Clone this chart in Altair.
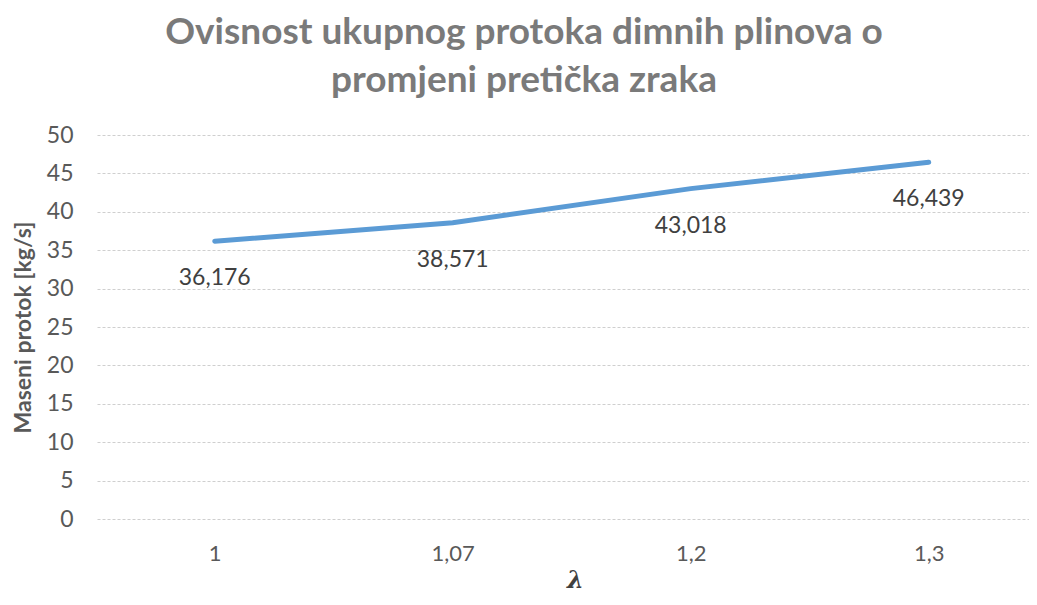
import altair as alt
import pandas as pd

categories = ["1", "1,07", "1,2", "1,3"]
values = [36.176, 38.571, 43.018, 46.439]
y_ticks = [0, 5, 10, 15, 20, 25, 30, 35, 40, 45, 50]

df = pd.DataFrame({"lam": categories, "val": values})
df["lbl"] = [f"{v:.3f}".replace(".", ",") for v in values]

FONT = "Lato"
x_scale = alt.Scale(type="point", padding=0.458, align=0.54)
y_scale = alt.Scale(domain=[0, 50], nice=False)

x_axis = alt.Axis(title="λ", labelAngle=0, ticks=False, domain=False,
                  grid=False, labelFontSize=22, labelColor="#595959",
                  labelPadding=24, titleFontSize=24, titleFontWeight="bold",
                  titleFontStyle="italic", titleColor="#404040",
                  titlePadding=4, titleX=478, labelFont=FONT,
                  titleFont="DejaVu Serif")
y_axis = alt.Axis(title="Maseni protok [kg/s]", values=y_ticks, ticks=False,
                  domain=False, gridColor="#cfcfcf", gridDash=[3, 2],
                  gridWidth=1, labelFontSize=23, labelColor="#595959",
                  labelPadding=24, labelOverlap=False,
                  titleFontSize=23, titleFontWeight="bold",
                  titleColor="#595959", titlePadding=11, labelFont=FONT,
                  titleFont=FONT)

x_enc = alt.X("lam:N", sort=categories, scale=x_scale, axis=x_axis)
y_enc = alt.Y("val:Q", scale=y_scale, axis=y_axis)

line = alt.Chart(df).mark_line(color="#5B9BD5", strokeWidth=5, strokeCap="round").encode(
    x=x_enc, y=y_enc)

text = alt.Chart(df).mark_text(dy=37, fontSize=23, color="#404040", font=FONT).encode(
    x=x_enc, y=y_enc, text="lbl:N")

chart = alt.layer(line, text).properties(
    width=932, height=384,
    autosize=alt.AutoSizeParams(type="none"),
    padding={"left": 89, "top": 127, "right": 0, "bottom": 78},
    title=alt.Title(["Ovisnost ukupnog protoka dimnih plinova o", "promjeni pretička zraka"],
                    fontSize=37, font=FONT, fontWeight="bold", color="#7a7a7a",
                    lineHeight=48, dx=-39, offset=24, anchor="middle"),
).configure_view(stroke=None)

chart.save("out.html", embed_options={"renderer": "svg", "actions": False})
